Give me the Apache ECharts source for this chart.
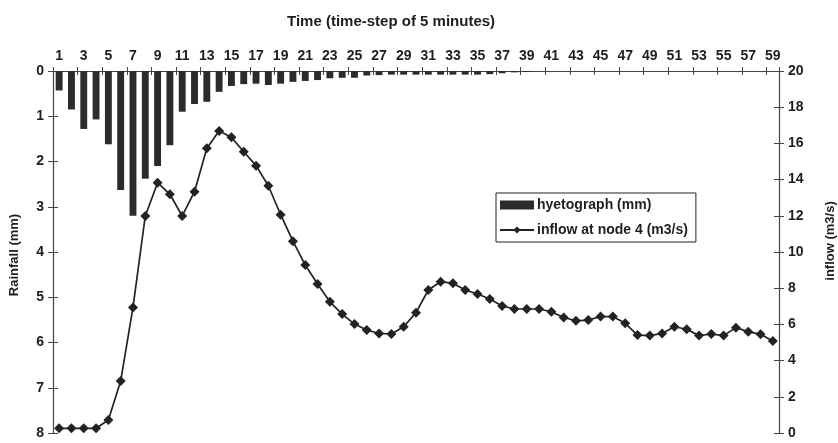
<!DOCTYPE html>
<html>
<head>
<meta charset="utf-8">
<script src="https://cdn.jsdelivr.net/npm/echarts@6/dist/echarts.min.js"></script>
<style>html,body{margin:0;padding:0;background:#fff;}#c{width:838px;height:443px;}</style>
</head>
<body>
<div id="c"></div>
<script>
const timeSteps = ['1','2','3','4','5','6','7','8','9','10','11','12','13','14','15','16','17','18','19','20',
  '21','22','23','24','25','26','27','28','29','30','31','32','33','34','35','36','37','38','39','40',
  '41','42','43','44','45','46','47','48','49','50','51','52','53','54','55','56','57','58','59'];
const rainfall = [0.43,0.85,1.28,1.07,1.62,2.63,3.2,2.38,2.1,1.64,0.9,0.73,0.68,0.46,0.33,0.29,0.28,0.31,0.28,0.24,
  0.22,0.2,0.16,0.15,0.15,0.1,0.09,0.08,0.08,0.08,0.08,0.08,0.08,0.08,0.08,0.07,0.05,0.03,0.02,0,
  0,0,0,0,0,0,0,0,0,0,0,0,0,0,0,0,0,0,0];
const inflow = [0.26,0.26,0.26,0.26,0.72,2.87,6.94,11.99,13.83,13.19,11.99,13.33,15.73,16.69,16.34,15.54,14.77,13.66,12.06,10.6,
  9.28,8.23,7.25,6.57,6.02,5.69,5.5,5.47,5.87,6.65,7.9,8.36,8.27,7.9,7.68,7.4,7.02,6.85,6.85,6.85,
  6.7,6.38,6.2,6.24,6.43,6.43,6.06,5.41,5.38,5.5,5.87,5.73,5.38,5.47,5.38,5.82,5.6,5.45,5.08];

const FONT = 'Liberation Sans, Arial, sans-serif';
const AX = '#444';
const TXT = '#1e1e1e';
const chart = echarts.init(document.getElementById('c'), null, {renderer:'canvas'});
chart.setOption({
  backgroundColor: '#fff',
  animation: false,
  textStyle: {fontFamily: FONT, color: TXT},
  title: {
    text: 'Time (time-step of 5 minutes)', left: 282, top: 9,
    textStyle: {fontFamily: FONT, fontSize: 15, fontWeight: 'bold', color: TXT}
  },
  grid: {left: 53, right: 59, top: 71, bottom: 10, containLabel: false},
  legend: {
    orient: 'vertical', left: 496, top: 193,
    backgroundColor: '#fff',
    borderColor: '#222', borderWidth: 1,
    padding: [5, 8, 5, 3],
    itemGap: 11, itemWidth: 34, itemHeight: 9,
    textStyle: {fontFamily: FONT, fontSize: 14, fontWeight: 'bold', color: TXT, padding: [0, 0, 0, -2]},
    data: [{name: 'hyetograph (mm)', icon: 'rect'}, {name: 'inflow at node 4 (m3/s)'}]
  },
  xAxis: [{
    type: 'category', position: 'top', data: timeSteps,
    axisLine: {onZero: false, lineStyle: {color: AX, width: 1.2}},
    axisTick: {show: true, length: 4, lineStyle: {color: AX}},
    axisLabel: {interval: 1, fontSize: 14, fontWeight: 'bold', color: TXT, margin: 8},
    splitLine: {show: false}
  }, {
    type: 'category', position: 'top', data: timeSteps,
    axisLine: {show: false, onZero: false},
    axisTick: {show: true, inside: true, length: 4, lineStyle: {color: AX}},
    axisLabel: {show: false}
  }],
  yAxis: [{
    type: 'value', position: 'left', inverse: true, min: 0, max: 8, interval: 1,
    axisLine: {show: true, onZero: false, lineStyle: {color: AX, width: 1.2}},
    axisTick: {show: true, length: 5, lineStyle: {color: AX}},
    axisLabel: {fontSize: 14, fontWeight: 'bold', color: TXT, margin: 9},
    splitLine: {show: false}
  }, {
    type: 'value', position: 'right', min: 0, max: 20, interval: 2,
    axisLine: {show: true, onZero: false, lineStyle: {color: AX, width: 1.2}},
    axisTick: {show: true, length: 5, lineStyle: {color: AX}},
    axisLabel: {fontSize: 14, fontWeight: 'bold', color: TXT, margin: 9},
    splitLine: {show: false}
  }, {
    type: 'value', position: 'left', inverse: true, min: 0, max: 8, interval: 1,
    axisLine: {show: false, onZero: false}, axisTick: {show: true, inside: true, length: 5, lineStyle: {color: AX}},
    axisLabel: {show: false}, splitLine: {show: false}
  }, {
    type: 'value', position: 'right', min: 0, max: 20, interval: 2,
    axisLine: {show: false, onZero: false}, axisTick: {show: true, inside: true, length: 5, lineStyle: {color: AX}},
    axisLabel: {show: false}, splitLine: {show: false}
  }],
  graphic: [{
    type: 'text', rotation: Math.PI / 2,
    x: 14, y: 255,
    style: {text: 'Rainfall (mm)', font: 'bold 13px ' + FONT, fill: TXT, textAlign: 'center', textVerticalAlign: 'middle'}
  }, {
    type: 'text', rotation: Math.PI / 2,
    x: 830, y: 241,
    style: {text: 'inflow (m3/s)', font: 'bold 13px ' + FONT, fill: TXT, textAlign: 'center', textVerticalAlign: 'middle'}
  }],
  series: [{
    name: 'hyetograph (mm)', type: 'bar', xAxisIndex: 0, yAxisIndex: 0,
    data: rainfall, barWidth: '56%',
    itemStyle: {color: '#2b2b2b'}
  }, {
    name: 'inflow at node 4 (m3/s)', type: 'line', xAxisIndex: 0, yAxisIndex: 1,
    data: inflow, symbol: 'diamond', symbolSize: 10, showSymbol: true, showAllSymbol: true,
    lineStyle: {color: '#222', width: 1.7},
    itemStyle: {color: '#222'}
  }]
});
</script>
</body>
</html>
